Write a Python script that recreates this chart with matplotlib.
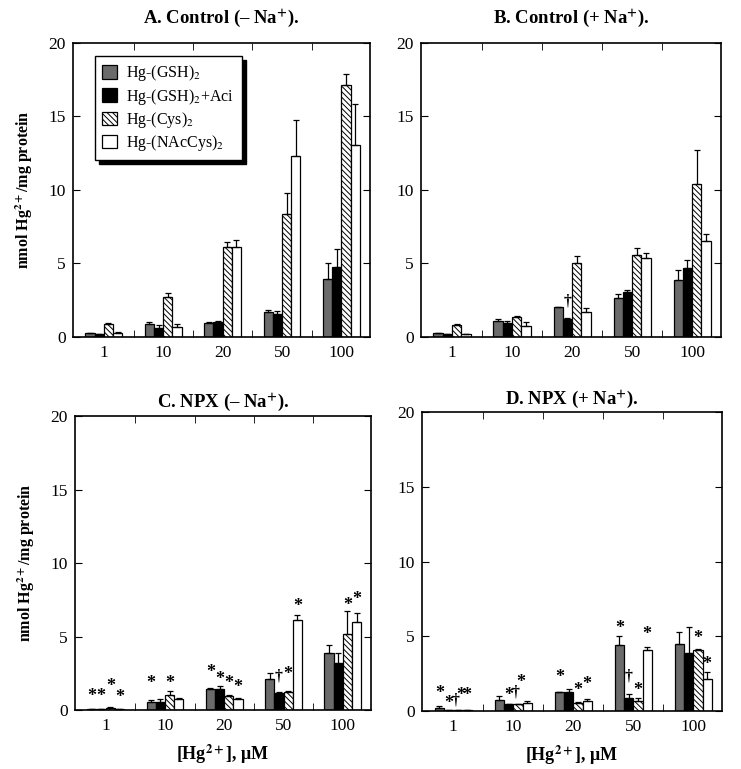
import numpy as np
import matplotlib
matplotlib.use('Agg')
import matplotlib.pyplot as plt

plt.rcParams['font.family'] = ['Liberation Serif', 'DejaVu Serif']
plt.rcParams['mathtext.fontset'] = 'stix'
plt.rcParams['hatch.linewidth'] = 0.7

concentrations = ['1', '10', '20', '50', '100']
series_names = ['Hg-(GSH)$_2$', 'Hg-(GSH)$_2$+Aci', 'Hg-(Cys)$_2$', 'Hg-(NAcCys)$_2$']

# A. Control (- Na+)
a_gsh = [0.27, 0.85, 0.98, 1.70, 3.95]
a_aci = [0.20, 0.64, 1.05, 1.55, 4.73]
a_cys = [0.86, 2.70, 6.14, 8.36, 17.16]
a_nac = [0.30, 0.68, 6.09, 12.30, 13.05]
a_gsh_err = [0.03, 0.15, 0.03, 0.15, 1.05]
a_aci_err = [0.02, 0.15, 0.03, 0.25, 1.25]
a_cys_err = [0.10, 0.30, 0.34, 1.44, 0.70]
a_nac_err = [0.02, 0.18, 0.48, 2.47, 2.81]
a_marks = []

# B. Control (+ Na+)
b_gsh = [0.27, 1.10, 2.04, 2.62, 3.89]
b_aci = [0.20, 0.98, 1.24, 3.07, 4.67]
b_cys = [0.82, 1.36, 5.04, 5.60, 10.38]
b_nac = [0.20, 0.78, 1.71, 5.40, 6.51]
b_gsh_err = [0.03, 0.10, 0.03, 0.33, 0.66]
b_aci_err = [0.02, 0.12, 0.06, 0.15, 0.55]
b_cys_err = [0.03, 0.04, 0.46, 0.45, 2.37]
b_nac_err = [0.02, 0.22, 0.24, 0.30, 0.50]
b_marks = [(2, 1, '†', 2.5)]

# C. NPX (- Na+)
c_gsh = [0.05, 0.54, 1.45, 2.10, 3.90]
c_aci = [0.07, 0.55, 1.45, 1.15, 3.17]
c_cys = [0.15, 1.00, 0.95, 1.20, 5.20]
c_nac = [0.05, 0.75, 0.75, 6.12, 6.00]
c_gsh_err = [0.02, 0.16, 0.05, 0.40, 0.50]
c_aci_err = [0.02, 0.20, 0.15, 0.05, 0.73]
c_cys_err = [0.05, 0.30, 0.05, 0.10, 1.55]
c_nac_err = [0.02, 0.10, 0.10, 0.33, 0.60]
c_marks = [(0, 0, '*', 1.29), (0, 1, '*', 1.29), (0, 2, '*', 1.97), (0, 3, '*', 1.22),
           (1, 0, '*', 2.20), (1, 2, '*', 2.20),
           (2, 0, '*', 2.90), (2, 1, '*', 2.47), (2, 2, '*', 2.20), (2, 3, '*', 1.88),
           (3, 1, '†', 2.40), (3, 2, '*', 2.80), (3, 3, '*', 7.40),
           (4, 2, '*', 7.50), (4, 3, '*', 7.90)]

# D. NPX (+ Na+)
d_gsh = [0.20, 0.76, 1.25, 4.40, 4.46]
d_aci = [0.05, 0.45, 1.30, 0.90, 3.90]
d_cys = [0.08, 0.45, 0.56, 0.70, 4.05]
d_nac = [0.06, 0.55, 0.65, 4.10, 2.16]
d_gsh_err = [0.15, 0.24, 0.03, 0.65, 0.84]
d_aci_err = [0.02, 0.05, 0.20, 0.25, 1.75]
d_cys_err = [0.02, 0.05, 0.04, 0.20, 0.10]
d_nac_err = [0.02, 0.15, 0.15, 0.15, 0.44]
d_marks = [(0, 0, '*', 1.51), (0, 1, '*', 0.89), (0, 2, '†', 0.78), (0, 2, '*', 1.44), (0, 3, '*', 1.44),
           (1, 1, '*', 1.44), (1, 2, '†', 1.30), (1, 2, '*', 2.27),
           (2, 0, '*', 2.60), (2, 2, '*', 1.74), (2, 3, '*', 2.16),
           (3, 0, '*', 5.90), (3, 1, '†', 2.40), (3, 2, '*', 1.75), (3, 3, '*', 5.50),
           (4, 2, '*', 5.20), (4, 3, '*', 3.50)]

colors = ['#6b6b6b', 'black', 'white', 'white']
hatches = [None, None, '\\\\\\\\\\\\', None]


def draw_panel(ax, values, errors, marks, title, title_pad):
    x = np.arange(len(concentrations))
    w = 0.155
    for i in range(4):
        pos = x + (i - 1.5) * w
        ax.bar(pos, values[i], w, color=colors[i], edgecolor='black', linewidth=0.9,
               hatch=hatches[i], label=series_names[i], zorder=2)
        ax.errorbar(pos, values[i], yerr=[np.zeros(len(x)), errors[i]], fmt='none',
                    ecolor='black', elinewidth=0.9, capsize=2.5, capthick=0.9, zorder=3)

    # significance marks; two marks on the same bar are spread apart
    for g, s, sym, y in marks:
        same = [m for m in marks if m[0] == g and m[1] == s]
        k = same.index((g, s, sym, y))
        dx = 0 if len(same) == 1 else (k - 0.5) * 0.08
        px = g + (s - 1.5) * w + dx
        if sym == '*':
            ax.annotate(sym, (px, y), xytext=(0, -4), textcoords='offset points',
                        ha='center', va='center', fontsize=13, fontweight='bold')
        else:
            ax.annotate(sym, (px, y), xytext=(0, -1), textcoords='offset points',
                        ha='center', va='center', fontsize=11.5, fontweight='bold')

    ax.set_xlim(-0.52, 4.48)
    ax.set_ylim(0, 20)
    ax.set_yticks([0, 5, 10, 15, 20])
    ax.set_xticks(x)
    ax.set_xticklabels(concentrations)
    ax.set_xticks([0.5, 1.5, 2.5, 3.5], minor=True)
    ax.tick_params(axis='x', which='major', length=0, labelsize=12.5, pad=6)
    ax.tick_params(axis='x', which='minor', direction='in', length=5, top=True, bottom=True)
    ax.tick_params(axis='y', direction='in', length=5, left=True, right=True, labelsize=12.5, pad=5)
    for sp in ax.spines.values():
        sp.set_linewidth(1.2)
    ax.set_title(title, fontsize=13.5, fontweight='bold', pad=title_pad)


fig = plt.figure(figsize=(7.41, 7.69), dpi=100)
ax_a = fig.add_axes([0.0985, 0.5618, 0.4008, 0.3823])
ax_b = fig.add_axes([0.568, 0.5618, 0.4049, 0.3823])
ax_c = fig.add_axes([0.101, 0.0767, 0.400, 0.3823])
ax_d = fig.add_axes([0.5695, 0.0754, 0.405, 0.3888])

draw_panel(ax_a, [a_gsh, a_aci, a_cys, a_nac], [a_gsh_err, a_aci_err, a_cys_err, a_nac_err],
           a_marks, 'A. Control (– Na$^{\\mathbf{+}}$).', 14)
draw_panel(ax_b, [b_gsh, b_aci, b_cys, b_nac], [b_gsh_err, b_aci_err, b_cys_err, b_nac_err],
           b_marks, 'B. Control (+ Na$^{\\mathbf{+}}$).', 14)
draw_panel(ax_c, [c_gsh, c_aci, c_cys, c_nac], [c_gsh_err, c_aci_err, c_cys_err, c_nac_err],
           c_marks, 'C. NPX (– Na$^{\\mathbf{+}}$).', 6)
draw_panel(ax_d, [d_gsh, d_aci, d_cys, d_nac], [d_gsh_err, d_aci_err, d_cys_err, d_nac_err],
           d_marks, 'D. NPX (+ Na$^{\\mathbf{+}}$).', 5)

ylab = 'nmol Hg$^{\\mathbf{2+}}$/mg protein'
ax_a.set_ylabel(ylab, fontsize=11.5, fontweight='bold', labelpad=10)
ax_c.set_ylabel(ylab, fontsize=11.5, fontweight='bold', labelpad=10)
xlab = '[Hg$^{\\mathbf{2+}}$], μM'
ax_c.set_xlabel(xlab, fontsize=13, fontweight='bold', labelpad=6)
ax_d.set_xlabel(xlab, fontsize=13, fontweight='bold', labelpad=6)

ax_a.legend(loc='upper left', bbox_to_anchor=(0.075, 0.955), fontsize=11.5,
            fancybox=False, edgecolor='black', framealpha=1,
            shadow={'ox': 3, 'oy': -3, 'facecolor': 'black', 'edgecolor': 'black', 'alpha': 1.0},
            handlelength=0.9, handleheight=0.9, handletextpad=0.6, labelspacing=0.2,
            borderpad=0.45, borderaxespad=0)
ax_a.get_legend().get_frame().set_linewidth(1.0)

fig.savefig('out.png', dpi=100)
